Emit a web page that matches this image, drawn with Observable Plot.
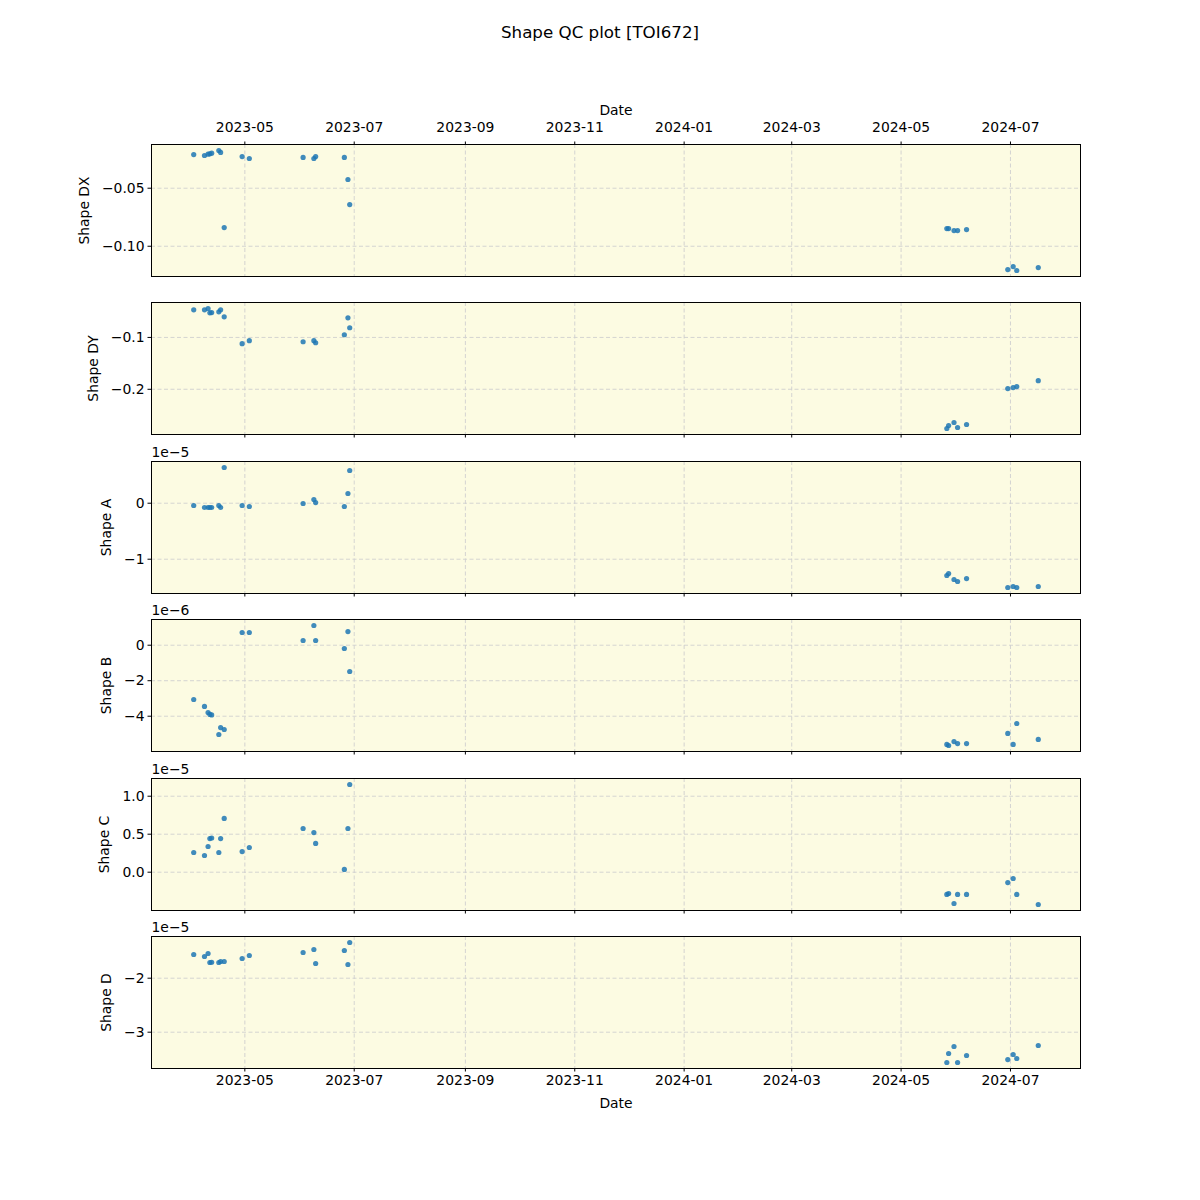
<!DOCTYPE html>
<html>
<head>
<meta charset="utf-8">
<script src="https://cdn.jsdelivr.net/npm/d3@7"></script>
<script src="https://cdn.jsdelivr.net/npm/@observablehq/plot@0.6"></script>
<style>
  html, body { margin: 0; padding: 0; background: white; }
  #wrap { position: relative; width: 1200px; height: 1200px; background: white; font-family: "DejaVu Sans", sans-serif; }
  #title { position: absolute; top: 22px; left: 0; width: 1200px; text-align: center; font-size: 16.7px; color: black; }
  .panel { position: absolute; left: 0; }
</style>
</head>
<body>
<div id="wrap"><div id="title">Shape QC plot [TOI672]</div></div>
<script>
// ---- data ----
const dates = [
  "2023-04-02", "2023-04-08", "2023-04-10", "2023-04-11", "2023-04-12",
  "2023-04-16", "2023-04-17", "2023-04-19", "2023-04-29", "2023-05-03",
  "2023-06-02", "2023-06-08", "2023-06-09", "2023-06-25", "2023-06-27",
  "2023-06-28",
  "2024-05-26", "2024-05-27", "2024-05-30", "2024-06-01", "2024-06-06",
  "2024-06-29", "2024-07-02", "2024-07-04", "2024-07-16"
];
const shapeDX = [
  -0.0210, -0.0218, -0.0207, -0.0204, -0.0198,
  -0.0175, -0.0192, -0.0839, -0.0227, -0.0244,
  -0.0235, -0.0244, -0.0227, -0.0235, -0.0425,
  -0.0641,
  -0.0848, -0.0848, -0.0865, -0.0865, -0.0856,
  -0.1201, -0.1175, -0.1209, -0.1184
];
const shapeDY = [
  -0.0467, -0.0467, -0.0442, -0.0525, -0.0520,
  -0.0506, -0.0467, -0.0602, -0.1121, -0.1063,
  -0.1083, -0.1063, -0.1102, -0.0948, -0.0621,
  -0.0813,
  -0.2756, -0.2698, -0.2640, -0.2737, -0.2679,
  -0.1987, -0.1967, -0.1948, -0.1833
];
const shapeA = [
  -0.041e-5, -0.077e-5, -0.077e-5, -0.077e-5, -0.077e-5,
  -0.041e-5, -0.077e-5, 0.6375e-5, -0.041e-5, -0.059e-5,
  -0.005e-5, 0.066e-5, 0.012e-5, -0.059e-5, 0.173e-5,
  0.584e-5,
  -1.291e-5, -1.255e-5, -1.3625e-5, -1.398e-5, -1.345e-5,
  -1.505e-5, -1.4875e-5, -1.505e-5, -1.4875e-5
];
const shapeB = [
  -3.06e-6, -3.45e-6, -3.79e-6, -3.90e-6, -3.93e-6,
  -5.03e-6, -4.64e-6, -4.75e-6, 0.716e-6, 0.716e-6,
  0.265e-6, 1.11e-6, 0.265e-6, -0.186e-6, 0.77e-6,
  -1.48e-6,
  -5.59e-6, -5.65e-6, -5.43e-6, -5.54e-6, -5.54e-6,
  -4.97e-6, -5.59e-6, -4.41e-6, -5.31e-6
];
const shapeC = [
  0.259e-5, 0.220e-5, 0.338e-5, 0.443e-5, 0.450e-5,
  0.259e-5, 0.443e-5, 0.707e-5, 0.272e-5, 0.325e-5,
  0.575e-5, 0.522e-5, 0.378e-5, 0.036e-5, 0.575e-5,
  1.154e-5,
  -0.293e-5, -0.280e-5, -0.412e-5, -0.293e-5, -0.293e-5,
  -0.136e-5, -0.083e-5, -0.293e-5, -0.425e-5
];
const shapeD = [
  -1.561e-5, -1.598e-5, -1.543e-5, -1.709e-5, -1.705e-5,
  -1.709e-5, -1.691e-5, -1.691e-5, -1.635e-5, -1.580e-5,
  -1.524e-5, -1.469e-5, -1.728e-5, -1.487e-5, -1.746e-5,
  -1.339e-5,
  -3.561e-5, -3.394e-5, -3.265e-5, -3.561e-5, -3.431e-5,
  -3.506e-5, -3.413e-5, -3.487e-5, -3.246e-5
];
const xTickDates = ["2023-05-01", "2023-07-01", "2023-09-01", "2023-11-01",
                    "2024-01-01", "2024-03-01", "2024-05-01", "2024-07-01"];
const panelLabels = ["Shape DX", "Shape DY", "Shape A", "Shape B", "Shape C", "Shape D"];
const yTicks = [
  [-0.10, -0.05],
  [-0.2, -0.1],
  [-1e-5, 0],
  [-4e-6, -2e-6, 0],
  [0, 0.5e-5, 1e-5],
  [-3e-5, -2e-5]
];
const exponents = [null, null, "1e\u22125", "1e\u22126", "1e\u22125", "1e\u22125"];

// ---- build ----
const rows = dates.map((d, i) => ({
  date: new Date(d + "T12:00:00Z"),
  v: [shapeDX[i], shapeDY[i], shapeA[i], shapeB[i], shapeC[i], shapeD[i]]
}));
const xTicks = xTickDates.map(d => new Date(d + "T00:00:00Z"));
const series = [shapeDX, shapeDY, shapeA, shapeB, shapeC, shapeD];

const minus = s => s.replace(/-/g, "\u2212");
const yFormats = [
  v => minus(v.toFixed(2)),
  v => minus(v.toFixed(1)),
  v => minus(String(Math.round(v * 1e5))),
  v => minus(String(Math.round(v * 1e6))),
  v => minus((v * 1e5).toFixed(1)),
  v => minus(String(Math.round(v * 1e5)))
];
const labelOffsets = [-67, -58, -45, -45, -47, -45];

const tMin = d3.min(rows, r => +r.date), tMax = d3.max(rows, r => +r.date);
const tPad = (tMax - tMin) * 0.05;
const xDomain = [new Date(tMin - tPad), new Date(tMax + tPad)];

const bg = "#fcfbe2";
const gridColor = "#cfcfcf";
const fmtDate = d3.utcFormat("%Y-%m");
const FS = 13.9;

const panelTop0 = 144, panelStep = 158.4, panelH = 132;
const MT = 60, MB = 50;
const wrap = document.getElementById("wrap");

for (let p = 0; p < 6; p++) {
  const vals = series[p];
  const lo = d3.min(vals), hi = d3.max(vals), pad = (hi - lo) * 0.05;
  const marks = [
    Plot.frame({fill: bg, stroke: null}),
    Plot.gridX(xTicks, {stroke: gridColor, strokeOpacity: 1, strokeWidth: 0.9, strokeDasharray: "4,2.5"}),
    Plot.gridY(yTicks[p], {stroke: gridColor, strokeOpacity: 1, strokeWidth: 0.9, strokeDasharray: "4,2.5"}),
    Plot.dot(rows, {x: "date", y: r => r.v[p], r: 2.6, fill: "#1f77b4", fillOpacity: 0.85, stroke: null}),
    Plot.frame({stroke: "black", strokeWidth: 1}),
    Plot.axisY(yTicks[p], {anchor: "left", tickSize: 3.5, tickPadding: 3.5, tickFormat: yFormats[p], label: null, fontSize: FS}),
    Plot.text([panelLabels[p]], {frameAnchor: "left", dx: labelOffsets[p], rotate: -90, textAnchor: "middle", lineAnchor: "middle", fontSize: FS, fill: "black"})
  ];
  if (p === 0) {
    marks.push(Plot.axisX(xTicks, {anchor: "top", tickSize: 3.5, tickPadding: 9.5, tickFormat: fmtDate, label: null, fontSize: FS}));
    marks.push(Plot.text(["Date"], {frameAnchor: "top", dy: -39, fontSize: FS, fill: "black"}));
  } else if (p === 5) {
    marks.push(Plot.axisX(xTicks, {anchor: "bottom", tickSize: 3.5, tickPadding: 3.5, tickFormat: fmtDate, label: null, fontSize: FS}));
    marks.push(Plot.text(["Date"], {frameAnchor: "bottom", dy: 39, fontSize: FS, fill: "black"}));
  } else {
    marks.push(Plot.axisX(xTicks, {anchor: "bottom", tickSize: 3.5, tickPadding: 3.5, tickFormat: () => "", label: null}));
  }
  if (exponents[p]) {
    marks.push(Plot.text([exponents[p]], {frameAnchor: "top-left", textAnchor: "start", lineAnchor: "bottom", dy: -5, fontSize: FS, fill: "black"}));
  }
  const chart = Plot.plot({
    width: 1200,
    height: panelH + MT + MB,
    marginLeft: 151, marginRight: 120, marginTop: MT, marginBottom: MB,
    style: {fontFamily: "DejaVu Sans", fontSize: FS + "px", background: "transparent", color: "black", overflow: "visible"},
    x: {type: "utc", domain: xDomain},
    y: {domain: [lo - pad, hi + pad]},
    marks
  });
  chart.classList.add("panel");
  chart.style.top = (panelTop0 + p * panelStep - MT) + "px";
  wrap.appendChild(chart);
}
</script>
</body>
</html>
